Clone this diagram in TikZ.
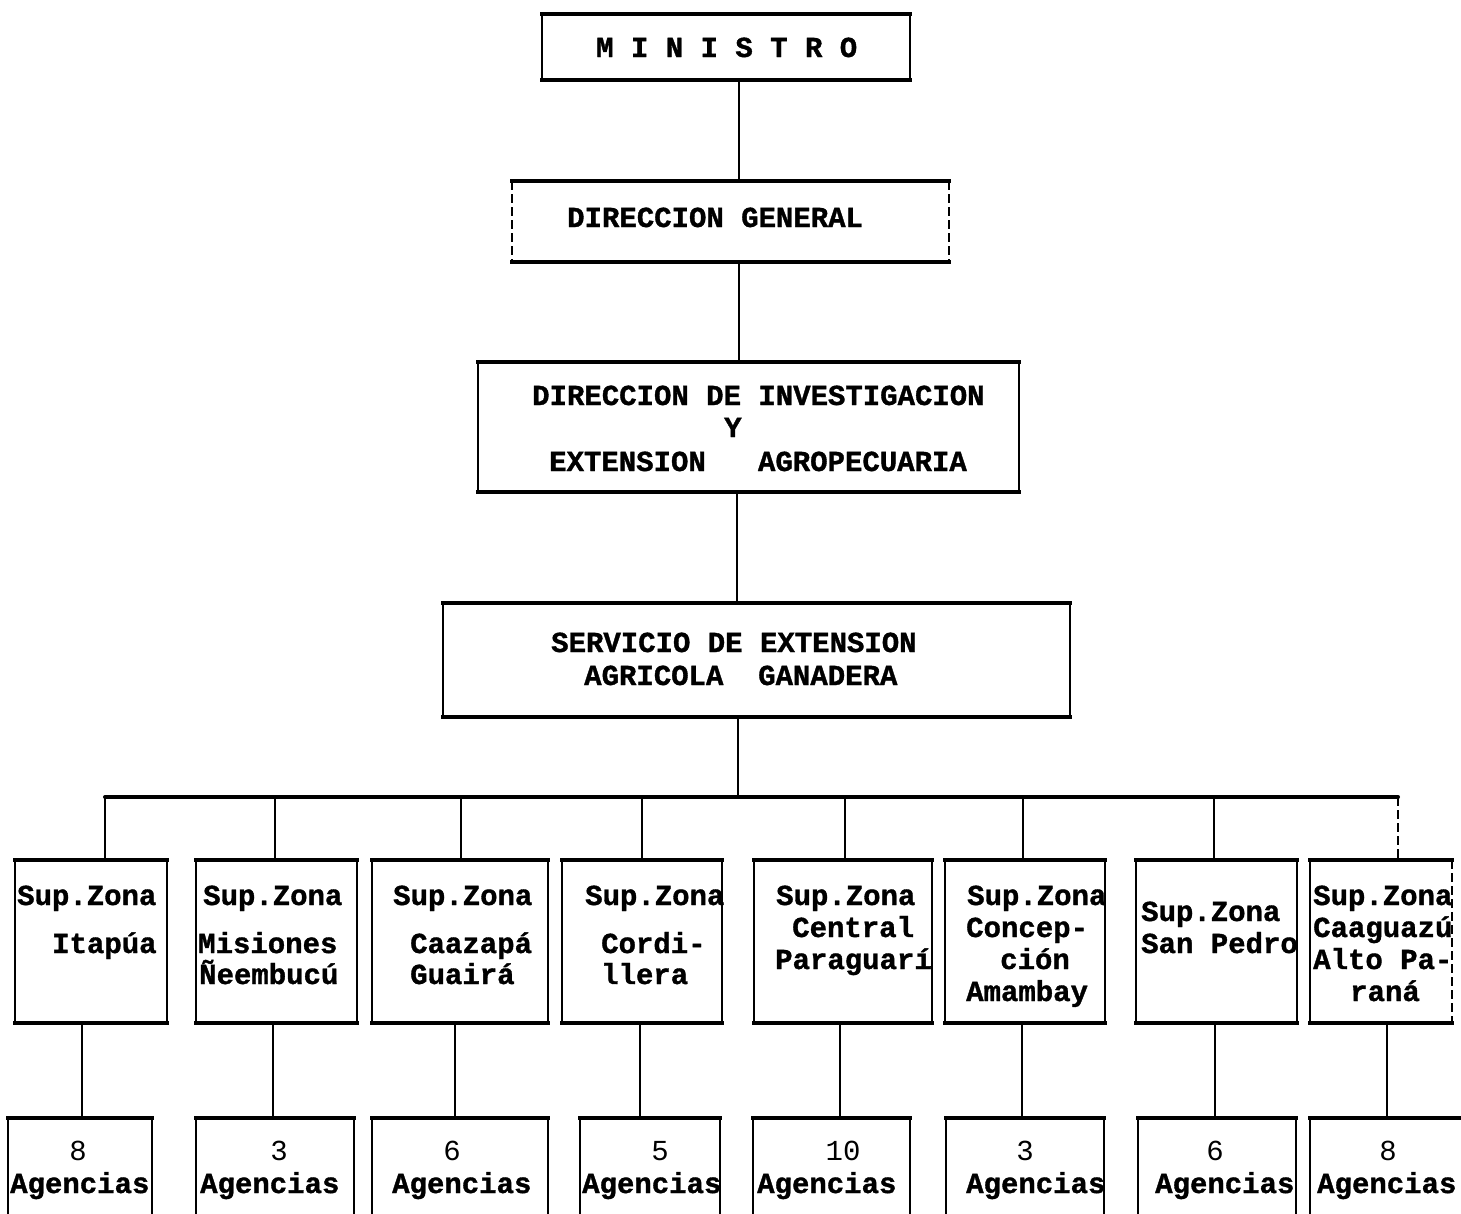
\documentclass[tikz,border=0pt]{standalone}
\usepackage{fontspec}
\newfontfamily\tw{Liberation Mono}[BoldFeatures={FakeBold=1.2}]
\begin{document}
\begin{tikzpicture}[x=1pt,y=-1pt,
  box/.style={draw, line width=2.2pt, outer sep=0pt, inner sep=0pt},
  ghost/.style={draw=none, outer sep=0pt, inner sep=0pt},
  heavy/.style={line width=4pt, line cap=rect},
  side/.style={line width=2pt},
  faint/.style={line width=1.6pt, dash pattern=on 9pt off 4pt},
  conn/.style={line width=2.4pt},
  bus/.style={line width=4pt, line cap=round},
  txt/.style={inner sep=0pt, font=\tw\bfseries\fontsize{29}{32}\selectfont},
  num/.style={inner sep=0pt, font=\tw\fontsize{29}{32}\selectfont}]
\useasboundingbox (0,0) rectangle (1461,1213);
\clip (0,0) rectangle (1461,1213);
\fill[white] (0,0) rectangle (1461,1213);

% ---------- upper boxes ----------
\node[box, minimum width=368pt, minimum height=66pt] (m) at (726,47) {};
\node[ghost, minimum width=437pt, minimum height=81pt] (dg) at (730.5,221.5) {};
\node[box, minimum width=541pt, minimum height=130pt] (di) at (748.5,427) {};
\node[box, minimum width=627pt, minimum height=114pt] (se) at (756.5,660) {};

\foreach \n in {m,di,se}{
  \draw[heavy] (\n.north west) -- (\n.north east) (\n.south west) -- (\n.south east);}
\draw[heavy] (dg.north west) -- (dg.north east) (dg.south west) -- (dg.south east);
\draw[faint] (dg.north west) -- (dg.south west) (dg.north east) -- (dg.south east);

\node[txt, anchor=base west] (mt) at (596,57) {M I N I S T R O};
\node[txt, anchor=base west] (dgt) at (567,227) {DIRECCION GENERAL};
\node[txt, anchor=base west] (dit1) at (532,405) {DIRECCION DE INVESTIGACION};
\node[txt, anchor=base west] (dit2) at (724,437) {Y};
\node[txt, anchor=base west] (dit3) at (549,471) {EXTENSION\ \ \ AGROPECUARIA};
\node[txt, anchor=base west] (set1) at (551,652) {SERVICIO DE EXTENSION};
\node[txt, anchor=base west] (set2) at (584,685) {AGRICOLA\ \ GANADERA};

% ---------- vertical spine ----------
\coordinate (s1) at (739,0);
\coordinate (s2) at (737,0);
\coordinate (j) at (738,797);
\draw[conn] (m.south -| s1) -- (dg.north -| s1);
\draw[conn] (dg.south -| s1) -- (di.north -| s1);
\draw[conn] (di.south -| s2) -- (se.north -| s2);
\draw[conn] (se.south -| j) -- (j);

% ---------- zone boxes ----------
\node[box, minimum width=152pt, minimum height=163pt] (z1) at (91,941.5) {};
\node[box, minimum width=161pt, minimum height=163pt] (z2) at (276.5,941.5) {};
\node[box, minimum width=176pt, minimum height=163pt] (z3) at (460,941.5) {};
\node[box, minimum width=160pt, minimum height=163pt] (z4) at (642,941.5) {};
\node[box, minimum width=178pt, minimum height=163pt] (z5) at (843,941.5) {};
\node[box, minimum width=160pt, minimum height=163pt] (z6) at (1025,941.5) {};
\node[box, minimum width=161pt, minimum height=163pt] (z7) at (1216.5,941.5) {};
\node[ghost, minimum width=142pt, minimum height=163pt] (z8) at (1381,941.5) {};
\foreach \n in {z1,z2,z3,z4,z5,z6,z7,z8}{
  \draw[heavy] (\n.north west) -- (\n.north east) (\n.south west) -- (\n.south east);}
\draw[side] (z8.north west) -- (z8.south west);
\draw[faint] (z8.north east) -- (z8.south east);

% ---------- bus and drops ----------
\coordinate (d1) at (105,797);
\coordinate (d2) at (275,797);
\coordinate (d3) at (461,797);
\coordinate (d4) at (642,797);
\coordinate (d5) at (845,797);
\coordinate (d6) at (1023,797);
\coordinate (d7) at (1214,797);
\coordinate (d8) at (1398,797);
\draw[bus] (d1) -- (d8);
\foreach \i in {1,...,7}{
  \draw[conn] (d\i) -- (d\i |- z\i.north);}
\draw[faint] (d8) -- (d8 |- z8.north);

% ---------- zone texts ----------
\node[txt, anchor=base west] (z1a) at (17,905) {Sup.Zona};
\node[txt, anchor=base west] (z1b) at (52,953) {Itapúa};
\node[txt, anchor=base west] (z2a) at (203,905) {Sup.Zona};
\node[txt, anchor=base west] (z2b) at (198,953) {Misiones};
\node[txt, anchor=base west] (z2c) at (199,984) {Ñeembucú};
\node[txt, anchor=base west] (z3a) at (393,905) {Sup.Zona};
\node[txt, anchor=base west] (z3b) at (410,953) {Caazapá};
\node[txt, anchor=base west] (z3c) at (410,984) {Guairá};
\node[txt, anchor=base west] (z4a) at (585,905) {Sup.Zona};
\node[txt, anchor=base west] (z4b) at (601,953) {Cordi-};
\node[txt, anchor=base west] (z4c) at (601,984) {llera};
\node[txt, anchor=base west] (z5a) at (776,905) {Sup.Zona};
\node[txt, anchor=base west] (z5b) at (792,937) {Central};
\node[txt, anchor=base west] (z5c) at (775,969) {Paraguarí};
\node[txt, anchor=base west] (z6a) at (967,905) {Sup.Zona};
\node[txt, anchor=base west] (z6b) at (966,937) {Concep-};
\node[txt, anchor=base west] (z6c) at (1000,969) {ción};
\node[txt, anchor=base west] (z6d) at (966,1001) {Amambay};
\node[txt, anchor=base west] (z7a) at (1141,921) {Sup.Zona};
\node[txt, anchor=base west] (z7b) at (1141,953) {San Pedro};
\node[txt, anchor=base west] (z8a) at (1313,905) {Sup.Zona};
\node[txt, anchor=base west] (z8b) at (1313,937) {Caaguazú};
\node[txt, anchor=base west] (z8c) at (1313,969) {Alto Pa-};
\node[txt, anchor=base west] (z8d) at (1350,1001) {raná};

% ---------- agency boxes ----------
\node[box, minimum width=144pt, minimum height=122pt] (g1) at (80,1179) {};
\node[box, minimum width=158pt, minimum height=122pt] (g2) at (275,1179) {};
\node[box, minimum width=176pt, minimum height=122pt] (g3) at (460,1179) {};
\node[box, minimum width=140pt, minimum height=122pt] (g4) at (650,1179) {};
\node[box, minimum width=157pt, minimum height=122pt] (g5) at (831.5,1179) {};
\node[box, minimum width=158pt, minimum height=122pt] (g6) at (1025,1179) {};
\node[box, minimum width=158pt, minimum height=122pt] (g7) at (1217,1179) {};
\node[box, minimum width=170pt, minimum height=122pt] (g8) at (1395,1179) {};
\foreach \n in {g1,g2,g3,g4,g5,g6,g7,g8}{
  \draw[heavy] (\n.north west) -- (\n.north east);}

% ---------- zone to agency connectors ----------
\coordinate (e1) at (82,0);
\coordinate (e2) at (273,0);
\coordinate (e3) at (455,0);
\coordinate (e4) at (640,0);
\coordinate (e5) at (840,0);
\coordinate (e6) at (1022,0);
\coordinate (e7) at (1215,0);
\coordinate (e8) at (1387,0);
\foreach \i in {1,...,8}{
  \draw[conn] (z\i.south -| e\i) -- (g\i.north -| e\i);}

% ---------- agency texts ----------
\node[num, anchor=base] (g1n) at (78,1160) {8};
\node[num, anchor=base] (g2n) at (279,1160) {3};
\node[num, anchor=base] (g3n) at (452,1160) {6};
\node[num, anchor=base] (g4n) at (660,1160) {5};
\node[num, anchor=base] (g5n) at (843,1160) {10};
\node[num, anchor=base] (g6n) at (1025,1160) {3};
\node[num, anchor=base] (g7n) at (1215,1160) {6};
\node[num, anchor=base] (g8n) at (1388,1160) {8};
\node[txt, anchor=base west] (g1t) at (10,1193) {Agencias};
\node[txt, anchor=base west] (g2t) at (200,1193) {Agencias};
\node[txt, anchor=base west] (g3t) at (392,1193) {Agencias};
\node[txt, anchor=base west] (g4t) at (582,1193) {Agencias};
\node[txt, anchor=base west] (g5t) at (757,1193) {Agencias};
\node[txt, anchor=base west] (g6t) at (966,1193) {Agencias};
\node[txt, anchor=base west] (g7t) at (1155,1193) {Agencias};
\node[txt, anchor=base west] (g8t) at (1317,1193) {Agencias};
\end{tikzpicture}
\end{document}
